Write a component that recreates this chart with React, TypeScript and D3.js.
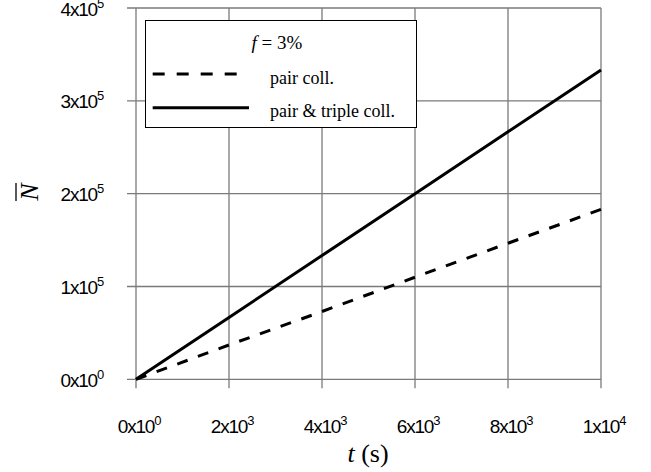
import React from "react";
import * as d3 from "d3";

const xTicks = [0, 2000, 4000, 6000, 8000, 10000];
const xTickMant = ["0", "2", "4", "6", "8", "1"];
const xTickExp = ["0", "3", "3", "3", "3", "4"];
const yTicks = [0, 100000, 200000, 300000, 400000];
const yTickMant = ["0", "1", "2", "3", "4"];
const yTickExp = ["0", "5", "5", "5", "5"];

const pairT = [0, 2000, 4000, 6000, 8000, 10000];
const pairN = [0, 37000, 73000, 110000, 146600, 183000];
const tripleT = [0, 2000, 4000, 6000, 8000, 10000];
const tripleN = [0, 66700, 133300, 200000, 266700, 333300];

const W = 651;
const H = 472;

export default function App() {
  const x = d3.scaleLinear().domain([0, 10000]).range([136, 601]);
  const y = d3.scaleLinear().domain([0, 400000]).range([379.3, 8]);
  const line = d3
    .line<[number, number]>()
    .x((d) => x(d[0]))
    .y((d) => y(d[1]));
  const pairData = pairT.map((t, i) => [t, pairN[i]] as [number, number]);
  const tripleData = tripleT.map((t, i) => [t, tripleN[i]] as [number, number]);
  const grid = "#7a7a7a";
  const sans = "'Liberation Sans', Arial, sans-serif";
  const serif = "'Liberation Serif', 'Times New Roman', serif";
  const x0 = x(0);
  const x1 = x(10000);
  const yb = y(0);
  const yt = y(400000);

  return (
    <svg
      width={W}
      height={H}
      style={{ position: "absolute", left: 0, top: 0, background: "#fff" }}
    >
      <rect x={0} y={0} width={W} height={H} fill="#fff" />
      {yTicks.map((v) => (
        <line key={"h" + v} x1={x0 - 9} x2={x1} y1={y(v)} y2={y(v)} stroke={grid} strokeWidth={1.3} />
      ))}
      {xTicks.map((v) => (
        <line key={"v" + v} x1={x(v)} x2={x(v)} y1={yt} y2={yb + 9} stroke={grid} strokeWidth={1.3} />
      ))}
      <path d={line(pairData) || ""} fill="none" stroke="#000" strokeWidth={3} strokeDasharray="11,11" />
      <path d={line(tripleData) || ""} fill="none" stroke="#000" strokeWidth={3} />
      {yTicks.map((v, i) => (
        <text key={"yl" + v} x={103} y={y(v) + 7.5} textAnchor="end" fontFamily={sans} fontSize={19} letterSpacing={-1.2}>
          {yTickMant[i]}x10
          <tspan fontSize={13} dy={-8}>{yTickExp[i]}</tspan>
        </text>
      ))}
      {xTicks.map((v, i) => (
        <text key={"xl" + v} x={x(v) + 3} y={433} textAnchor="middle" fontFamily={sans} fontSize={19} letterSpacing={-1.2}>
          {xTickMant[i]}x10
          <tspan fontSize={13} dy={-8}>{xTickExp[i]}</tspan>
        </text>
      ))}
      <text x={368} y={462} textAnchor="middle" fontFamily={serif} fontSize={26}>
        <tspan fontStyle="italic">t</tspan> (s)
      </text>
      <g transform="translate(38,192) rotate(-90)">
        <text x={0} y={0} textAnchor="middle" fontFamily={serif} fontSize={26} fontStyle="italic">
          N
        </text>
        <line x1={-9} x2={9} y1={-22} y2={-22} stroke="#000" strokeWidth={1.3} />
      </g>
      <rect x={145.5} y={20.5} width={271} height={107} fill="#fff" stroke="#000" strokeWidth={1} />
      <text x={277} y={49} textAnchor="middle" fontFamily={serif} fontSize={19}>
        <tspan fontStyle="italic">f</tspan> = 3%
      </text>
      <line x1={152.7} x2={237.7} y1={74} y2={74} stroke="#000" strokeWidth={3} strokeDasharray="12,12" />
      <text x={270} y={84} fontFamily={serif} fontSize={18}>
        pair coll.
      </text>
      <line x1={152.7} x2={249} y1={107.7} y2={107.7} stroke="#000" strokeWidth={3} />
      <text x={270} y={117} fontFamily={serif} fontSize={18}>
        pair &amp; triple coll.
      </text>
    </svg>
  );
}
